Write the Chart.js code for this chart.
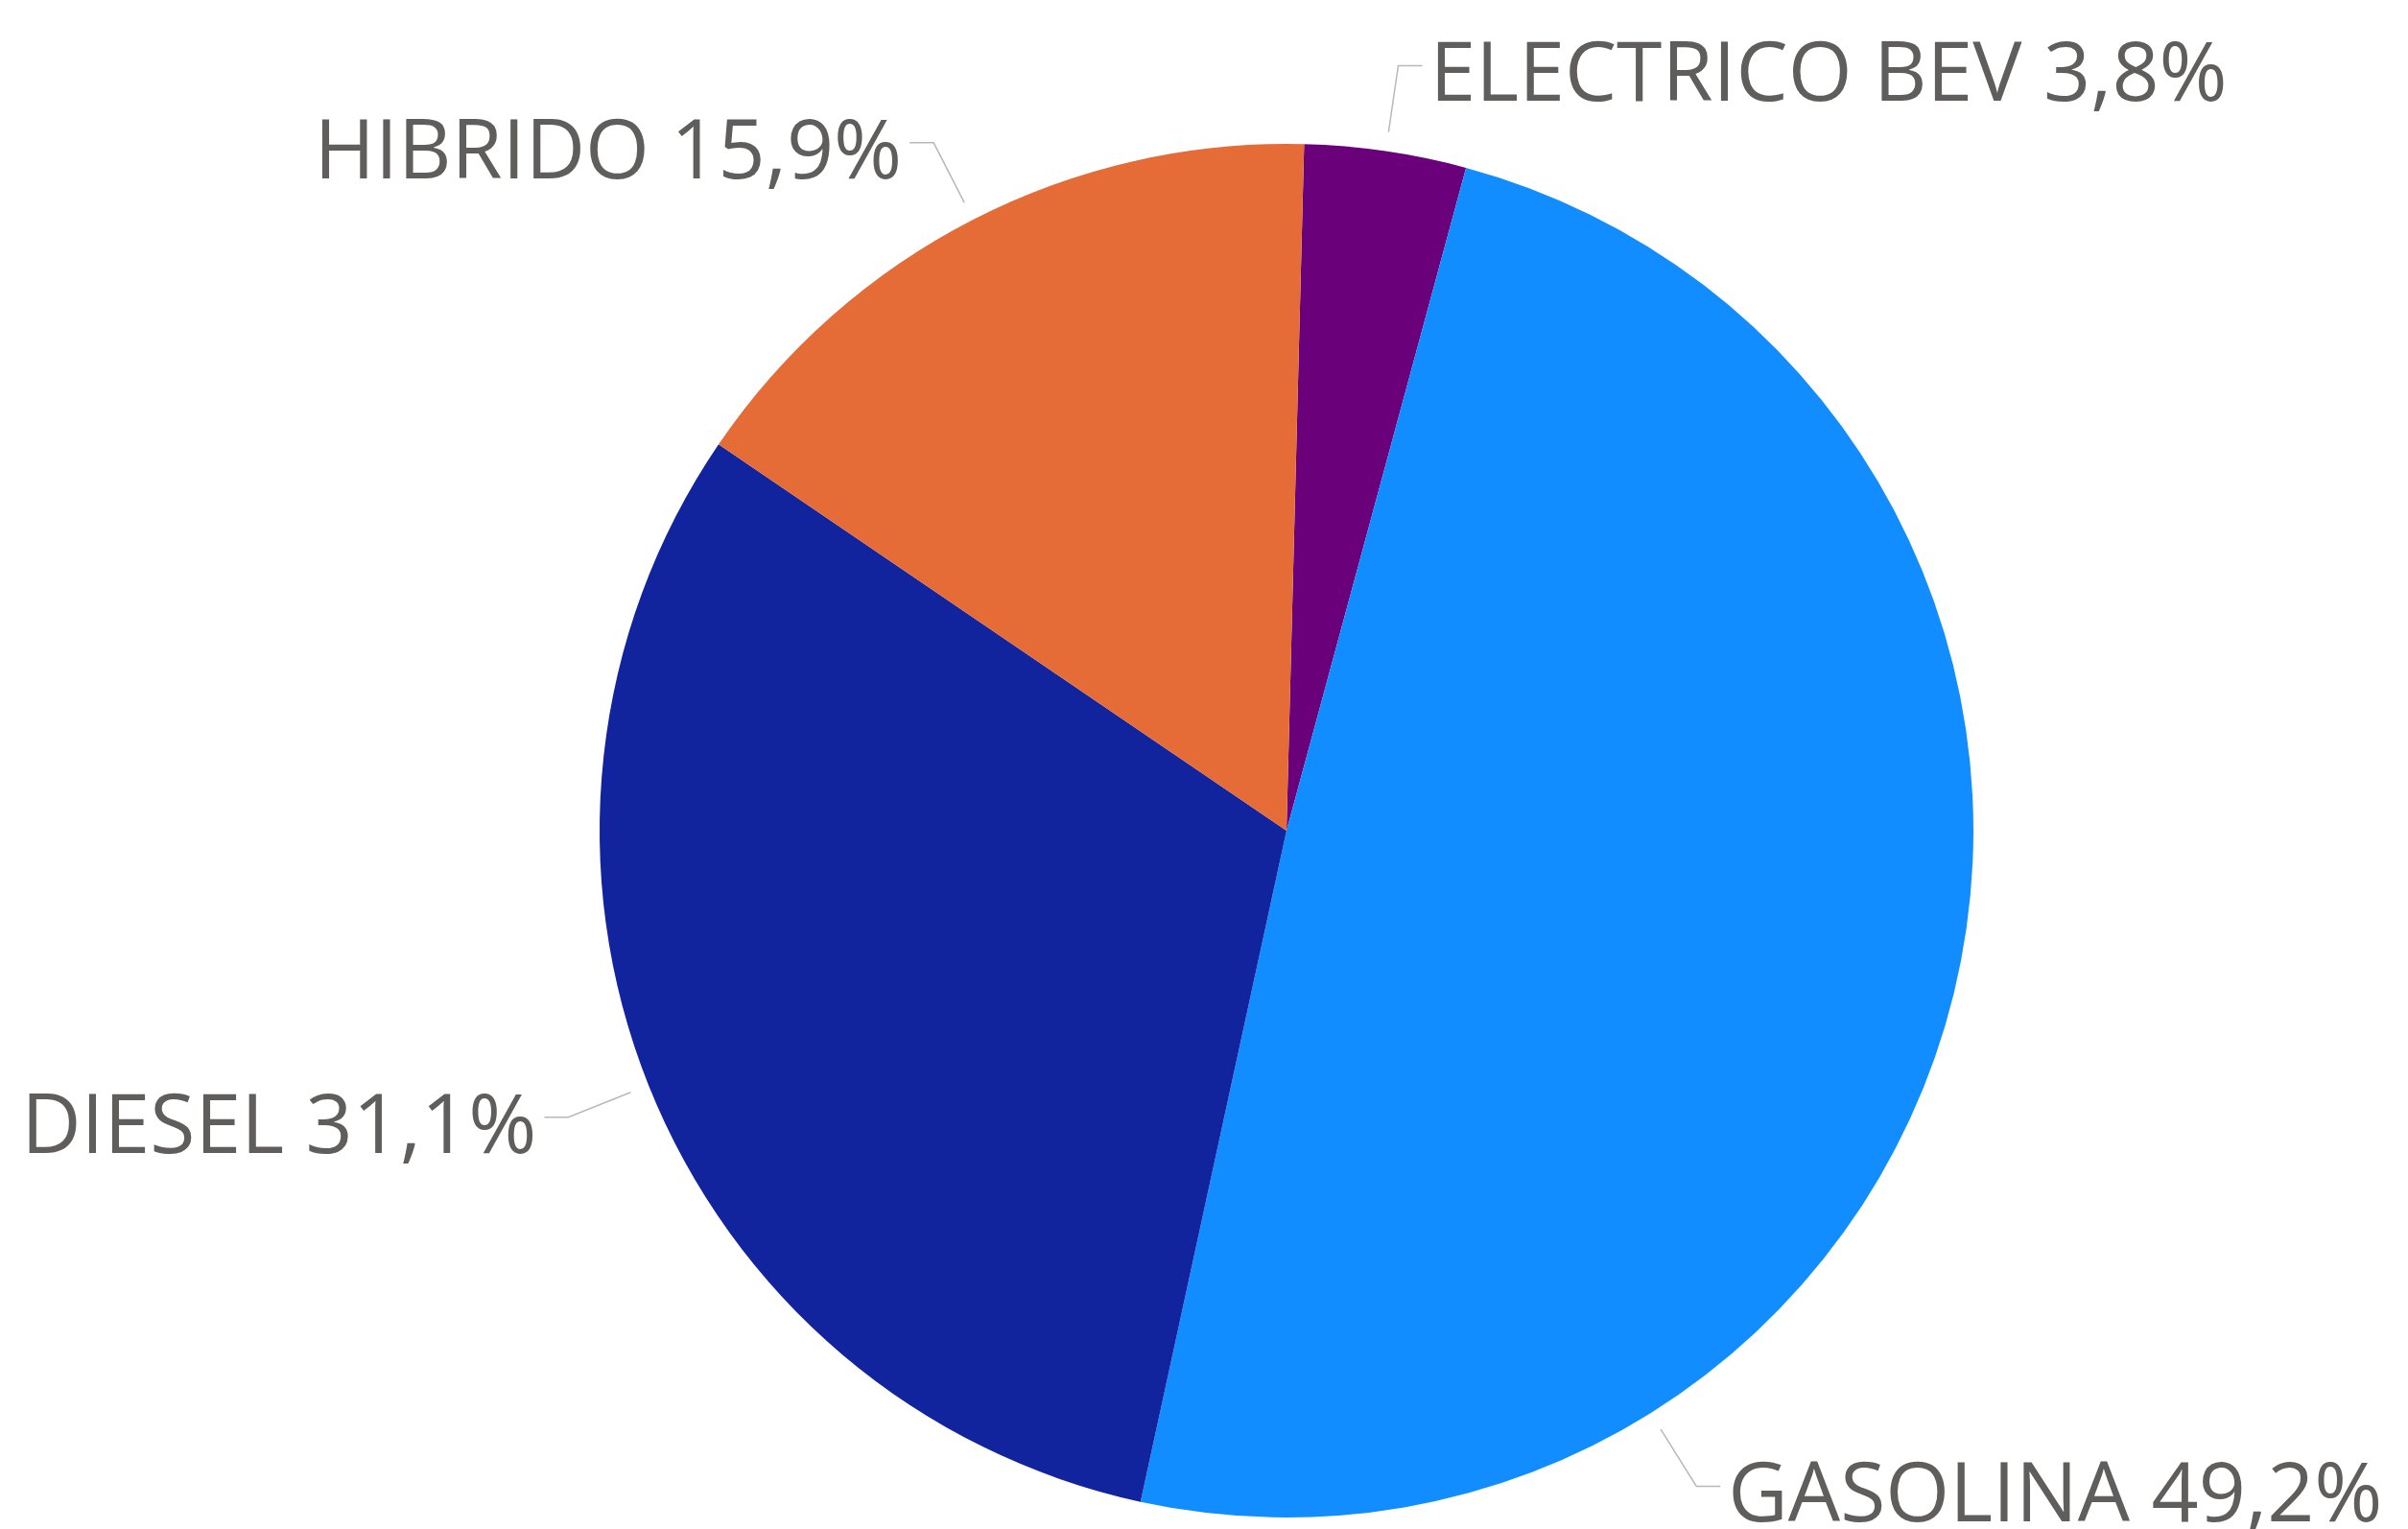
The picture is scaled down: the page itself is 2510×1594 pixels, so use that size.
<!DOCTYPE html>
<html>
<head>
<meta charset="utf-8">
<script src="https://cdn.jsdelivr.net/npm/chart.js@4/dist/chart.umd.min.js"></script>
<style>
    html, body { margin: 0; padding: 0; background: #ffffff; }
    canvas { display: block; }
</style>
</head>
<body>
<canvas id="pieChart" width="2510" height="1594"></canvas>
<script>
const categories = ["ELECTRICO BEV", "GASOLINA", "DIESEL", "HIBRIDO"];
const shares = [3.8, 49.2, 31.1, 15.9];
const sliceColors = ["#6B007B", "#118DFF", "#12239E", "#E66C37"];
// where along each slice the leader line leaves (0 = start, 1 = end)
const labelAnchor = [0.5, 0.75, 0.5, 0.5];

const leaderLabels = {
    id: "leaderLabels",
    afterDraw(chart) {
        const ctx = chart.ctx;
        const meta = chart.getDatasetMeta(0);
        ctx.save();
        ctx.font = "86px 'Open Sans'";
        ctx.textBaseline = "alphabetic";
        meta.data.forEach(function (arc, i) {
            const p = arc.getProps(["x", "y", "startAngle", "endAngle", "outerRadius"], true);
            const a = p.startAngle + labelAnchor[i] * (p.endAngle - p.startAngle);
            const r1 = p.outerRadius + 20;
            const r2 = p.outerRadius + 90;
            const x1 = p.x + Math.cos(a) * r1, y1 = p.y + Math.sin(a) * r1;
            const x2 = p.x + Math.cos(a) * r2, y2 = p.y + Math.sin(a) * r2;
            const right = Math.cos(a) >= 0;
            const x3 = x2 + (right ? 25 : -25);

            ctx.strokeStyle = "#B8B8B8";
            ctx.lineWidth = 1.5;
            ctx.beginPath();
            ctx.moveTo(x1, y1);
            ctx.lineTo(x2, y2);
            ctx.lineTo(x3, y2);
            ctx.stroke();

            const text = categories[i] + " " + shares[i].toFixed(1).replace(".", ",") + "%";
            ctx.fillStyle = "#605E5C";
            ctx.textAlign = right ? "left" : "right";
            ctx.fillText(text, x3 + (right ? 8 : -8), y2 + 37);
        });
        ctx.restore();
    }
};

new Chart(document.getElementById("pieChart"), {
    type: "pie",
    data: {
        labels: categories,
        datasets: [{
            data: shares,
            backgroundColor: sliceColors,
            borderWidth: 0
        }]
    },
    options: {
        responsive: false,
        animation: false,
        rotation: 1.47,
        layout: {
            padding: { left: 625, right: 453, top: 150, bottom: 12 }
        },
        plugins: {
            legend: { display: false },
            tooltip: { enabled: false }
        }
    },
    plugins: [leaderLabels]
});
</script>
</body>
</html>
